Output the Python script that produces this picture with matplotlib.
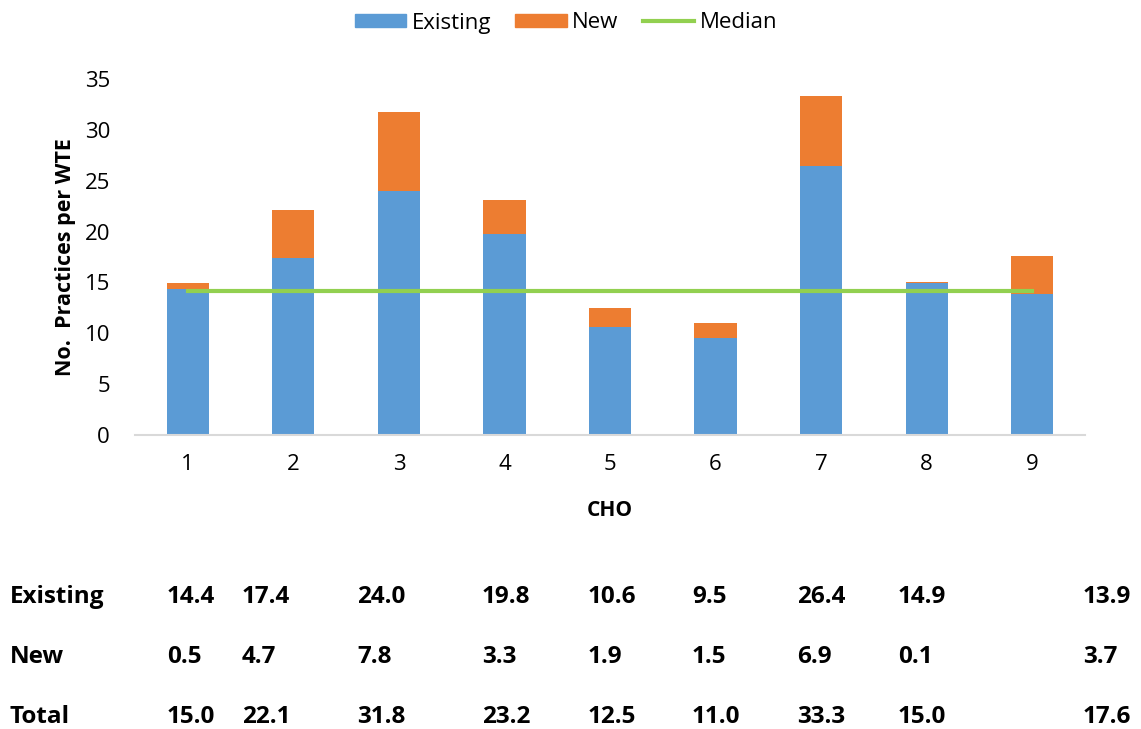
import matplotlib
matplotlib.use("Agg")
import matplotlib.pyplot as plt
from matplotlib.lines import Line2D
from matplotlib.patches import Patch

cho = [1, 2, 3, 4, 5, 6, 7, 8, 9]
existing = [14.4, 17.4, 24.0, 19.8, 10.6, 9.5, 26.4, 14.9, 13.9]
new = [0.5, 4.7, 7.8, 3.3, 1.9, 1.5, 6.9, 0.1, 3.7]
total = [15.0, 22.1, 31.8, 23.2, 12.5, 11.0, 33.3, 15.0, 17.6]
median = 14.2
yticks = [0, 5, 10, 15, 20, 25, 30, 35]

plt.rcParams['font.family'] = ['Open Sans', 'DejaVu Sans']

W, H = 1141, 729
fig = plt.figure(figsize=(W / 100, H / 100), dpi=100)
ax = fig.add_axes([135 / W, 1 - 435 / H, (1085 - 135) / W, (435 - 79) / H])

c_ex, c_new, c_med = '#5B9BD5', '#ED7D31', '#92D050'
ax.bar(cho, existing, width=0.4, color=c_ex, zorder=2)
ax.bar(cho, new, width=0.4, bottom=existing, color=c_new, zorder=2)
ax.plot([cho[0], cho[-1]], [median, median], color=c_med, lw=3, zorder=3)

ax.set_xlim(0.5, 9.5)
ax.set_ylim(0, 35)
ax.set_yticks(yticks)
ax.set_xticks(cho)
for s in ['top', 'right', 'left']:
    ax.spines[s].set_visible(False)
ax.spines['bottom'].set_color('#d9d9d9')
ax.spines['bottom'].set_linewidth(1.5)
ax.tick_params(length=0, labelsize=16, colors='black')
ax.tick_params(axis='y', pad=18)
ax.tick_params(axis='x', pad=14)
ax.set_ylabel('No.  Practices per WTE', fontsize=15.5, fontweight='bold', labelpad=6)
ax.set_xlabel('CHO', fontsize=15, fontweight='bold', labelpad=18)

handles = [Patch(color=c_ex, label='Existing'), Patch(color=c_new, label='New'),
           Line2D([0], [0], color=c_med, lw=3, label='Median')]
fig.legend(handles=handles, loc='center', bbox_to_anchor=(566 / W, 1 - 23 / H), ncol=3,
           frameon=False, fontsize=16, handlelength=2.3, handleheight=0.55,
           columnspacing=1.1, handletextpad=0.25)

# table below
col_x = [167, 242, 357, 482, 588, 692, 797, 898, 1083]
rows = [('Existing', existing, 597), ('New', new, 657), ('Total', total, 717)]
for name, vals, y in rows:
    fig.text(10 / W, 1 - y / H, name, fontsize=17.5, fontweight='bold', va='center', ha='left')
    for x, v in zip(col_x, vals):
        fig.text(x / W, 1 - y / H, f'{v:.1f}', fontsize=17.5, fontweight='bold',
                 va='center', ha='left')

fig.savefig('out.png', dpi=100)
